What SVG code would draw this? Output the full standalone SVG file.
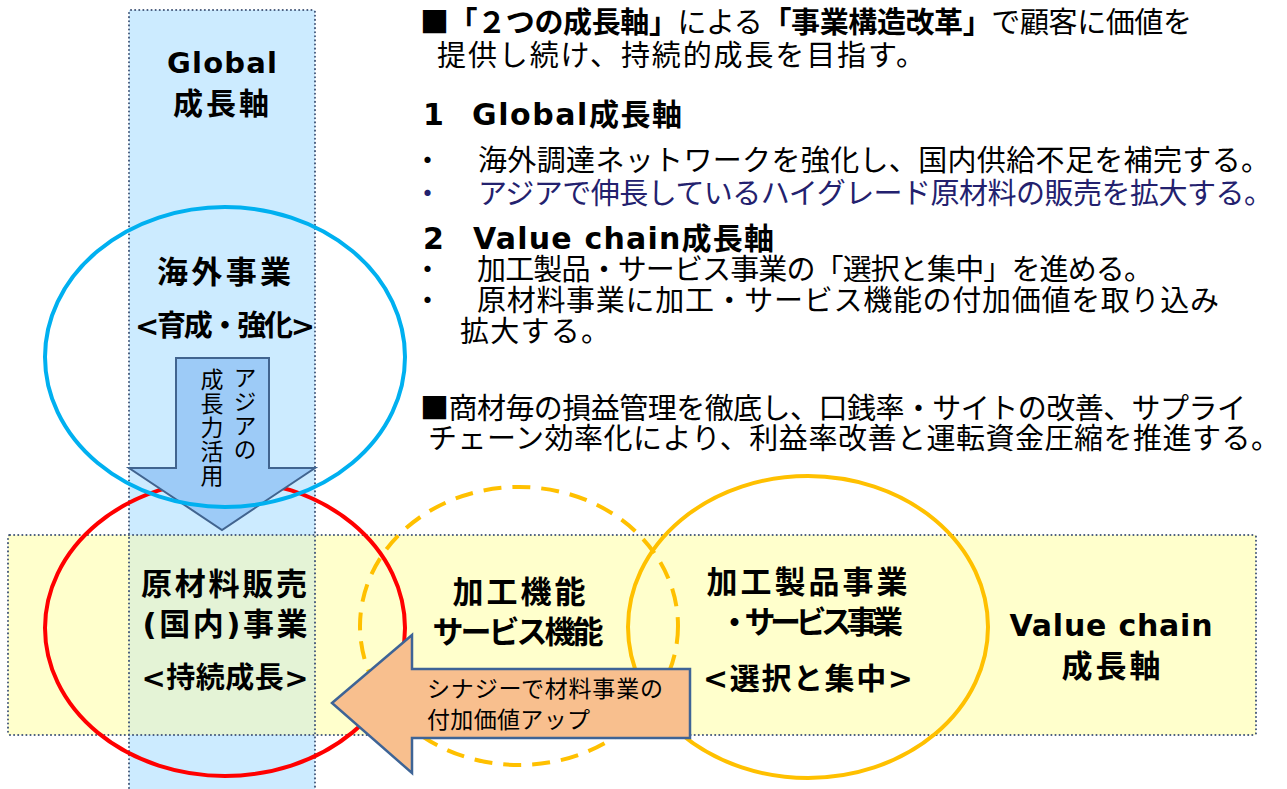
<svg xmlns="http://www.w3.org/2000/svg" width="1287" height="789" viewBox="0 0 1287 789">
<style>
  .band { stroke:#44587A; stroke-width:2; stroke-dasharray:0.1 4; stroke-linecap:round; fill:none; }
  .lbl { font-family:"DejaVu Sans","Noto Sans CJK JP",sans-serif; font-weight:700; fill:#000; text-anchor:middle; }
  .body { font-family:"Noto Sans CJK JP",sans-serif; font-size:29px; fill:#000; }
  .head { font-family:"DejaVu Sans","Noto Sans CJK JP",sans-serif; font-size:30px; font-weight:700; fill:#000; }
  .small { font-family:"Noto Sans CJK JP",sans-serif; font-size:23px; fill:#000; }
  .b { font-weight:700; }
  .navy { fill:#23216E; }
  .ring { fill:none; stroke-width:4; }
</style>
<g id="bands">
  <rect x="129" y="10" width="186" height="790" fill="#CCEBFF"/>
  <rect x="8" y="535" width="1248" height="200" fill="#FFFFCC"/>
  <rect x="129" y="535" width="186" height="200" fill="#E4F3D6"/>
  <rect class="band" x="129" y="10" width="186" height="790" rx="2"/>
  <rect class="band" x="8" y="535" width="1248" height="200" rx="2"/>
</g>
<g id="node-red">
  <ellipse class="ring" cx="225" cy="628" rx="180" ry="148" stroke="#FF0000"/>
</g>
<g id="node-dashed">
  <ellipse class="ring" cx="519" cy="626" rx="159" ry="139" stroke="#FFC000" stroke-dasharray="18 11"/>
</g>
<g id="node-yellow">
  <ellipse class="ring" cx="808" cy="627" rx="180" ry="151" stroke="#FFC000"/>
</g>
<g id="connectors">
  <polygon points="176,358 269,358 269,468 315,468 222,530 129,468 176,468" fill="#9DCBF7" stroke="#41648F" stroke-width="2"/>
  <polygon points="332,703 412,635 412,669 690,669 690,738 412,738 412,773" fill="#F8BF8E" stroke="#3E6496" stroke-width="2.5"/>
  <text class="small" x="245" y="366" style="writing-mode:vertical-rl" font-size="24" letter-spacing="1">アジアの</text>
  <text class="small" x="212" y="368" style="writing-mode:vertical-rl" font-size="24" letter-spacing="1">成長力活用</text>
  <text class="small" x="427" y="697" textLength="236">シナジーで材料事業の</text>
  <text class="small" x="427" y="728" textLength="163">付加価値アップ</text>
</g>
<g id="node-blue">
  <ellipse class="ring" cx="225" cy="357" rx="180" ry="150" stroke="#00B0F0"/>
</g>
<g id="label-global">
  <text class="lbl" x="222" y="73" font-size="29" textLength="110">Global</text>
  <text class="lbl" x="221" y="114" font-size="30" textLength="96">成長軸</text>
</g>
<g id="label-overseas">
  <text class="lbl" x="224" y="283" font-size="31" textLength="134">海外事業</text>
  <text class="lbl" x="225" y="336" font-size="29" textLength="180">&lt;育成・強化&gt;</text>
</g>
<g id="label-raw">
  <text class="lbl" x="224" y="595" font-size="31" textLength="166">原材料販売</text>
  <text class="lbl" x="225" y="635" font-size="31" textLength="165">(国内)事業</text>
  <text class="lbl" x="225" y="688" font-size="29" textLength="167">&lt;持続成長&gt;</text>
</g>
<g id="label-func">
  <text class="lbl" x="519" y="603" font-size="31" textLength="133">加工機能</text>
  <text class="lbl" x="518" y="643" font-size="31" textLength="171">サービス機能</text>
</g>
<g id="label-products">
  <text class="lbl" x="807" y="593" font-size="31" textLength="201">加工製品事業</text>
  <text class="lbl" x="811" y="633" font-size="31" textLength="184">・サービス事業</text>
  <text class="lbl" x="808" y="689" font-size="30" textLength="210">&lt;選択と集中&gt;</text>
</g>
<g id="label-valuechain">
  <text class="lbl" x="1111" y="636" font-size="30" textLength="203">Value chain</text>
  <text class="lbl" x="1111" y="677" font-size="31" textLength="99">成長軸</text>
</g>
<g id="text-block">
  <text class="body" x="420" y="33" textLength="772">■<tspan class="b">「２つの成長軸」</tspan>による<tspan class="b">「事業構造改革」</tspan>で顧客に価値を</text>
  <text class="body" x="437" y="66" textLength="488">提供し続け、持続的成長を目指す。</text>
  <text class="head" x="423" y="125">1</text>
  <text class="head" x="472" y="125" textLength="210">Global成長軸</text>
  <text class="body" x="413" y="171">・</text>
  <text class="body" x="478" y="171" textLength="792">海外調達ネットワークを強化し、国内供給不足を補完する。</text>
  <text class="body navy" x="413" y="204">・</text>
  <text class="body navy" x="478" y="204" textLength="795">アジアで伸長しているハイグレード原材料の販売を拡大する。</text>
  <text class="head" x="423" y="249">2</text>
  <text class="head" x="473" y="249" textLength="301">Value chain成長軸</text>
  <text class="body" x="413" y="280">・</text>
  <text class="body" x="477" y="280" textLength="676">加工製品・サービス事業の「選択と集中」を進める。</text>
  <text class="body" x="413" y="311">・</text>
  <text class="body" x="477" y="311" textLength="742">原材料事業に加工・サービス機能の付加価値を取り込み</text>
  <text class="body" x="460" y="342" textLength="150">拡大する。</text>
  <text class="body" x="420" y="419" textLength="826">■商材毎の損益管理を徹底し、口銭率・サイトの改善、サプライ</text>
  <text class="body" x="428" y="449" textLength="852">チェーン効率化により、利益率改善と運転資金圧縮を推進する。</text>
</g>
</svg>
